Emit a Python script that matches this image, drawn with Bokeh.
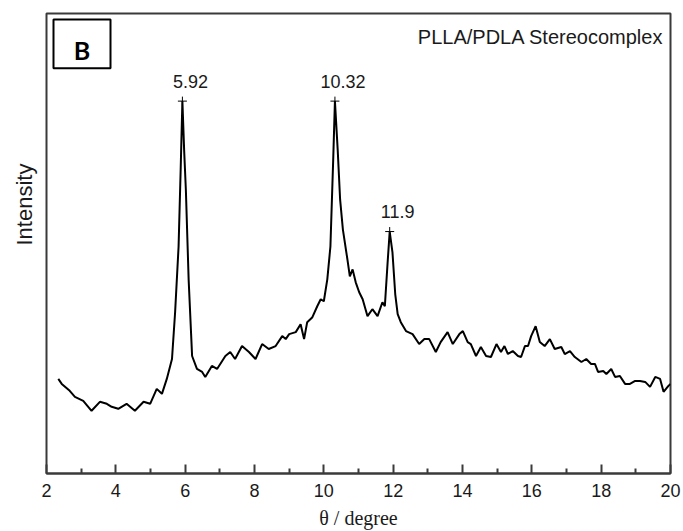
from bokeh.plotting import figure
from bokeh.models import Range1d, FixedTicker, Label, BoxAnnotation, ColumnDataSource, Title
from bokeh.core.properties import value
from bokeh.embed import file_html
from bokeh.resources import INLINE

# ---------------- data ----------------
two_theta = [2.34, 2.44, 2.67, 2.82, 3.06, 3.30, 3.54, 3.74, 3.88, 4.07, 4.31, 4.55, 4.80, 4.99,
             5.18, 5.33, 5.47, 5.62, 5.71, 5.81, 5.87, 5.92, 5.97, 6.02, 6.10, 6.20, 6.34, 6.49,
             6.58, 6.77, 6.92, 7.16, 7.30, 7.44, 7.64, 7.84, 8.03, 8.22, 8.41, 8.61, 8.80, 8.90,
             9.00, 9.19, 9.33, 9.43, 9.52, 9.67, 9.81, 9.91, 10.00, 10.10, 10.19, 10.27, 10.32,
             10.40, 10.47, 10.55, 10.68, 10.75, 10.83, 10.92, 11.02, 11.12, 11.26, 11.40, 11.55,
             11.69, 11.76, 11.84, 11.90, 11.98, 12.06, 12.13, 12.22, 12.37, 12.56, 12.75, 12.90,
             13.04, 13.23, 13.37, 13.57, 13.72, 13.91, 14.01, 14.15, 14.24, 14.39, 14.53, 14.68,
             14.82, 14.98, 15.11, 15.21, 15.31, 15.45, 15.60, 15.69, 15.80, 15.89, 15.98, 16.11,
             16.23, 16.37, 16.52, 16.66, 16.85, 16.95, 17.10, 17.24, 17.43, 17.57, 17.71, 17.82,
             17.91, 18.06, 18.15, 18.29, 18.40, 18.54, 18.69, 18.83, 18.98, 19.12, 19.27, 19.41,
             19.56, 19.70, 19.80, 19.94, 20.00]
intensity = [95, 90, 83, 77, 73, 63, 72, 70, 67, 65, 70, 63, 72, 70,
             85, 80, 95, 115, 162, 228, 305, 374, 325, 285, 195, 118, 105, 102,
             97, 108, 105, 118, 122, 115, 128, 122, 115, 130, 125, 128, 138, 135,
             140, 142, 150, 135, 152, 157, 168, 175, 173, 195, 228, 315, 374,
             325, 275, 245, 215, 198, 205, 192, 182, 175, 158, 165, 158,
             172, 168, 212, 243, 222, 180, 160, 152, 143, 140, 130, 135,
             135, 122, 132, 142, 130, 140, 143, 132, 130, 118, 127, 118,
             117, 130, 122, 128, 120, 123, 118, 117, 128, 128, 138, 148,
             132, 128, 135, 125, 127, 120, 123, 117, 112, 115, 110, 110,
             102, 103, 100, 105, 97, 98, 90, 90, 93, 93, 92, 87,
             97, 95, 82, 88, 90]

peak_pos = [5.92, 10.32, 11.9]
peak_int = [374, 374, 243]
peak_labels = ["5.92", "10.32", "11.9"]

x_ticks = [2, 4, 6, 8, 10, 12, 14, 16, 18, 20]
x_minor_ticks = [3, 5, 7, 9, 11, 13, 15, 17, 19]

title_text = "PLLA/PDLA Stereocomplex"
panel_text = "B"
y_label_text = "Intensity"
x_label_text = "\u03b8 / degree"

# ---------------- layout ----------------
W, H = 683, 531
ML, MR, MT, MB = 46, 13, 13, 56
FW = W - ML - MR
FH = H - MT - MB
X0, X1 = 2, 20
Y0, Y1 = 0, FH

def sx_to_x(px):
    return X0 + px * (X1 - X0) / FW

p = figure(width=W, height=H, x_range=Range1d(X0, X1), y_range=Range1d(Y0, Y1),
           output_backend="svg", toolbar_location=None, y_axis_location=None,
           min_border_left=ML, min_border_right=MR, min_border_top=MT, min_border_bottom=MB,
           background_fill_color="white", border_fill_color="white")
p.grid.visible = False
p.outline_line_color = "#3a3a3a"
p.outline_line_width = 2
p.outline_line_alpha = 1

ax = p.xaxis[0]
ax.ticker = FixedTicker(ticks=x_ticks, minor_ticks=x_minor_ticks)
ax.axis_line_color = "#3a3a3a"
ax.axis_line_width = 2
ax.major_tick_in = 9
ax.major_tick_out = 0
ax.major_tick_line_width = 2
ax.major_tick_line_color = "#3a3a3a"
ax.minor_tick_in = 5
ax.minor_tick_out = 0
ax.minor_tick_line_width = 2
ax.minor_tick_line_color = "#3a3a3a"
ax.major_label_text_font = "Liberation Sans"
ax.major_label_text_font_size = "18px"
ax.major_label_text_color = "#1a1a1a"
ax.major_label_standoff = 10
ax.axis_label = x_label_text
ax.axis_label_text_font = "Liberation Serif"
ax.axis_label_text_font_style = "normal"
ax.axis_label_text_font_size = "20px"
ax.axis_label_text_color = "#1a1a1a"
ax.axis_label_standoff = 7

# y axis label as a side title, starting above the frame bottom like the reference
p.add_layout(Title(text=y_label_text, align="left", offset=228, vertical_align="middle",
                   text_font="Liberation Sans", text_font_style="normal",
                   text_font_size="22px", text_color="#1a1a1a", standoff=18), "left")

src = ColumnDataSource(dict(x=two_theta, y=intensity))
p.line("x", "y", source=src, line_color="black", line_width=2)

psrc = ColumnDataSource(dict(x=peak_pos, y=peak_int, t=peak_labels))
p.scatter("x", "y", source=psrc, marker="cross", size=9, line_color="black", line_width=1)
p.text("x", "y", text="t", source=psrc, x_offset=8, y_offset=-20,
       text_font=value("Liberation Sans"), text_font_size="18px", text_color="#1a1a1a",
       text_align="center", text_baseline="middle")

# title at top right
p.add_layout(Label(x=617, y=FH - 25, x_units="screen", y_units="screen", text=title_text,
                   text_font="Liberation Sans", text_font_size="20px", text_color="#1a1a1a",
                   text_align="right", text_baseline="middle"))

# panel letter box
p.add_layout(BoxAnnotation(left=sx_to_x(7), right=sx_to_x(64), bottom=FH - 55, top=FH - 6,
                           fill_color="white", fill_alpha=1, line_color="black",
                           line_alpha=1, line_width=2))
p.add_layout(Label(x=sx_to_x(35.5), y=FH - 37, text=panel_text,
                   text_font="Lato", text_font_style="bold", text_font_size="25px",
                   text_color="black", text_align="center", text_baseline="middle"))

open("out.html", "w").write(file_html(p, INLINE))
